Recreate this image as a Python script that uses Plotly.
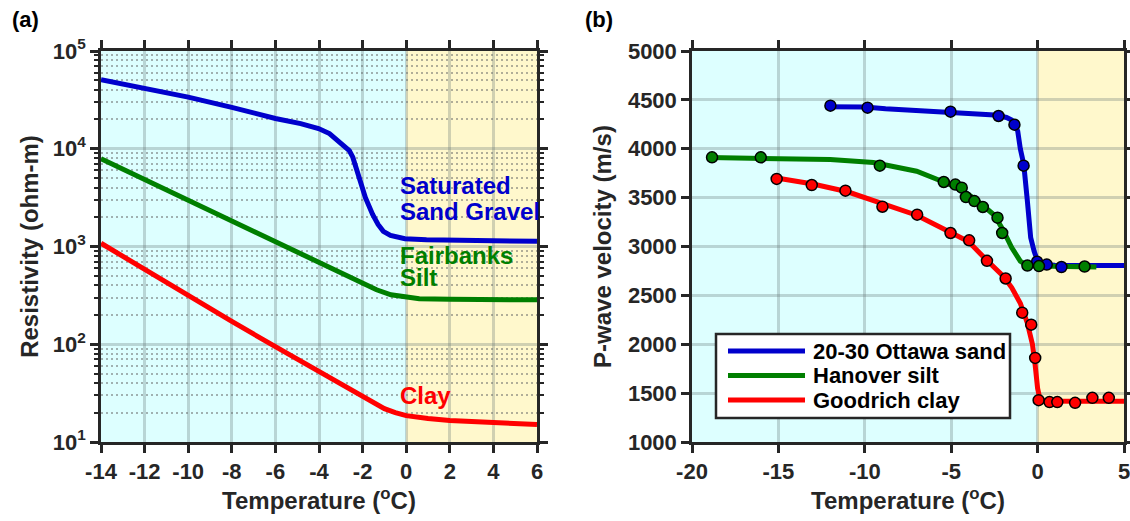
import plotly.graph_objects as go

# ---------------- (a) resistivity vs temperature ----------------
temp_sand = [-14, -12, -10, -8, -6, -4.84, -4.02, -3.52, -3.03, -2.61, -2.45, -2.2,
             -1.87, -1.54, -1.29, -1.05, -0.72, -0.06, 0.93, 6]
rho_sand = [50900, 41800, 33700, 26500, 20400, 18100, 16100, 14300, 11700, 9600, 8200, 5500,
            3160, 2130, 1680, 1430, 1300, 1200, 1170, 1130]

temp_silt = [-14, -10, -6, -4, -2, -1.36, -0.7, 0, 0.6, 2, 4, 6]
rho_silt = [7900, 3000, 1140, 690, 424, 361, 321, 301, 292, 288, 286, 285]

temp_clay = [-14, -12, -10, -8, -6, -4, -2, -1.5, -1, -0.5, 0, 1, 2, 4, 6]
rho_clay = [1080, 578, 309, 171, 94.6, 52.5, 28.8, 24.8, 21.9, 20.0, 18.6, 17.4, 16.6, 15.8, 15.1]

# ---------------- (b) P-wave velocity vs temperature ----------------
# measured points
ottawa_t = [-11.99, -9.84, -5.04, -2.26, -1.34, -0.81, -0.03, 0.53, 1.38]
ottawa_v = [4441, 4420, 4379, 4335, 4246, 3827, 2845, 2815, 2790]
hanover_t = [-18.84, -16.02, -9.13, -5.43, -4.76, -4.39, -4.15, -3.66, -3.17, -2.32, -2.05,
             -0.59, 0.08, 2.72]
hanover_v = [3912, 3912, 3827, 3660, 3633, 3602, 3506, 3465, 3404, 3295, 3138,
             2805, 2800, 2795]
goodrich_t = [-15.1, -13.07, -11.12, -8.98, -6.97, -5.04, -3.96, -2.93, -1.85, -0.89, -0.37,
              -0.14, 0.06, 0.69, 1.14, 2.17, 3.17, 4.12]
goodrich_v = [3691, 3629, 3571, 3407, 3326, 3138, 3063, 2853, 2673, 2323, 2200,
              1860, 1428, 1408, 1408, 1401, 1452, 1452]

# fitted curves
ottawa_fit_t = [-12.3, -10, -8.8, -7, -5, -2.5, -1.8, -1.5, -1.3, -1.15, -1.0, -0.8, -0.6,
                -0.4, -0.2, 0, 0.3, 1, 3, 5]
ottawa_fit_v = [4430, 4428, 4410, 4395, 4378, 4345, 4320, 4293, 4250, 4180, 4000, 3840, 3480,
                3090, 2950, 2850, 2815, 2808, 2805, 2805]
hanover_fit_t = [-19, -16, -12, -9.5, -7, -5.5, -4.5, -3.5, -2.5, -2.0, -1.5, -1.0, -0.6, 0, 3.4]
hanover_fit_v = [3910, 3905, 3890, 3860, 3770, 3665, 3590, 3470, 3320, 3170, 2990, 2850,
                 2805, 2800, 2790]
goodrich_fit_t = [-15.1, -13, -11, -9, -7, -5, -4, -3, -2, -1.5, -1, -0.6, -0.3, -0.15, 0,
                  0.15, 0.5, 2, 5]
goodrich_fit_v = [3700, 3640, 3560, 3440, 3320, 3140, 3050, 2870, 2700, 2580, 2420, 2220,
                  2000, 1800, 1550, 1430, 1420, 1418, 1418]

series_names = ["20-30 Ottawa sand", "Hanover silt", "Goodrich clay"]

temp_ticks_a = list(range(-14, 7, 2))
temp_ticks_b = list(range(-20, 6, 5))
res_ticks = [10, 100, 1000, 10000, 100000]
res_ticktext = ["10<sup>1</sup>", "10<sup>2</sup>", "10<sup>3</sup>", "10<sup>4</sup>", "10<sup>5</sup>"]
res_minor = [m * 10 ** e for e in range(1, 5) for m in range(2, 10)]

BLUE = "#0000CC"
GREEN = "#007F00"
RED = "#FF0000"
CYAN = "#DDFFFF"
YELLOW = "#FFF8CC"
INK = "#262626"
FONT = "Liberation Sans"

W, H = 1130, 521
xa = [101 / W, 537 / W]
xb = [692 / W, 1124 / W]
ydom = [1 - 442 / H, 1 - 51 / H]


def px(x):
    return x / W


def py(y):
    return 1 - y / H


fig = go.Figure()

for t, r, c in [(temp_sand, rho_sand, BLUE), (temp_silt, rho_silt, GREEN), (temp_clay, rho_clay, RED)]:
    fig.add_trace(go.Scatter(x=t, y=r, mode="lines", line=dict(color=c, width=5),
                             showlegend=False, xaxis="x", yaxis="y"))

fit_colors = [BLUE, GREEN, RED]
for t, v, name, c in zip([ottawa_fit_t, hanover_fit_t, goodrich_fit_t],
                         [ottawa_fit_v, hanover_fit_v, goodrich_fit_v], series_names, fit_colors):
    fig.add_trace(go.Scatter(x=t, y=v, mode="lines", name=name, line=dict(color=c, width=5),
                             showlegend=False, xaxis="x2", yaxis="y2"))

for t, v, c in [(ottawa_t, ottawa_v, BLUE), (hanover_t, hanover_v, GREEN), (goodrich_t, goodrich_v, RED)]:
    fig.add_trace(go.Scatter(x=t, y=v, mode="markers", showlegend=False,
                             marker=dict(color=c, size=11, line=dict(color="black", width=1.5)),
                             xaxis="x2", yaxis="y2"))

# frozen / thawed backgrounds
shapes = []
for xr, yr, lo, hi in [("x", "y domain", -14, 6), ("x2", "y2 domain", -20, 5)]:
    shapes.append(dict(type="rect", xref=xr, yref=yr, x0=lo, x1=0, y0=0, y1=1,
                       fillcolor=CYAN, line=dict(width=0), layer="below"))
    shapes.append(dict(type="rect", xref=xr, yref=yr, x0=0, x1=hi, y0=0, y1=1,
                       fillcolor=YELLOW, line=dict(width=0), layer="below"))

# legend box for panel (b)
shapes.append(dict(type="rect", xref="paper", yref="paper", x0=px(716), x1=px(1010),
                   y0=py(418), y1=py(334), fillcolor="white",
                   line=dict(color=INK, width=2.5), layer="above"))
for i, (name, c) in enumerate(zip(series_names, fit_colors)):
    yy = py(351 + 24.5 * i)
    shapes.append(dict(type="line", xref="paper", yref="paper", x0=px(728), x1=px(805),
                       y0=yy, y1=yy, line=dict(color=c, width=5), layer="above"))
    fig.add_annotation(x=px(811), y=yy, xref="paper", yref="paper", text=name,
                       showarrow=False, xanchor="left", yanchor="middle",
                       font=dict(family=FONT, size=22, color="black", weight="bold"))

grid = "rgba(100,115,115,0.30)"
tickfont = dict(family=FONT, size=22, color=INK, weight="bold")
xtitlefont = dict(family=FONT, size=24, color=INK, weight="bold")
ytitlefont = dict(family=FONT, size=24, color=INK, weight="bold")
common = dict(showline=True, linewidth=2.5, linecolor=INK, mirror="ticks", ticks="outside",
              ticklen=8, tickwidth=2.5, tickcolor=INK, showgrid=True, gridcolor=grid,
              gridwidth=2.5, zeroline=False, automargin=False, ticklabeloverflow="allow",
              tickfont=tickfont)

fig.update_layout(
    width=W, height=H, margin=dict(l=0, r=0, t=0, b=0),
    font=dict(family=FONT, size=22, color=INK, weight="bold"),
    paper_bgcolor="white", plot_bgcolor="white", shapes=shapes, showlegend=False,
    xaxis=dict(domain=xa, range=[-14, 6], tickvals=temp_ticks_a,
               ticktext=[str(v) for v in temp_ticks_a], anchor="y",
               title=dict(text="Temperature (<sup>o</sup>C)", font=xtitlefont, standoff=8), **common),
    yaxis=dict(domain=ydom, type="log", range=[1, 5], tickvals=res_ticks, ticktext=res_ticktext,
               anchor="x",
               title=dict(text="Resistivity (ohm-m)", font=ytitlefont, standoff=8),
               minor=dict(tickvals=res_minor, ticks="outside", ticklen=4, tickwidth=2,
                          tickcolor=INK, showgrid=True, gridcolor="rgba(100,100,100,0.5)",
                          griddash="2px,3px", gridwidth=2),
               **common),
    xaxis2=dict(domain=xb, range=[-20, 5], tickvals=temp_ticks_b,
                ticktext=[str(v) for v in temp_ticks_b], anchor="y2",
                title=dict(text="Temperature (<sup>o</sup>C)", font=xtitlefont, standoff=8), **common),
    yaxis2=dict(domain=ydom, range=[1000, 5000], dtick=500, anchor="x2",
                title=dict(text="P-wave velocity (m/s)", font=ytitlefont, standoff=10), **common),
)

ann_font = dict(family=FONT, size=24, weight="bold")
labels = [("Saturated", 3.619, BLUE), ("Sand Gravel", 3.353, BLUE), ("Fairbanks", 2.913, GREEN),
          ("Silt", 2.678, GREEN), ("Clay", 1.48, RED)]
for txt, ly, c in labels:
    fig.add_annotation(x=-0.38, y=ly, xref="x", yref="y", text=txt, showarrow=False,
                       xanchor="left", yanchor="middle", font=dict(color=c, **ann_font))

for txt, x0 in [("(a)", 10), ("(b)", 583)]:
    fig.add_annotation(x=px(x0), y=py(20), xref="paper", yref="paper", text=txt,
                       showarrow=False, xanchor="left", yanchor="middle",
                       font=dict(family=FONT, size=22, color="black", weight="bold"))

fig.write_html("out.html")
